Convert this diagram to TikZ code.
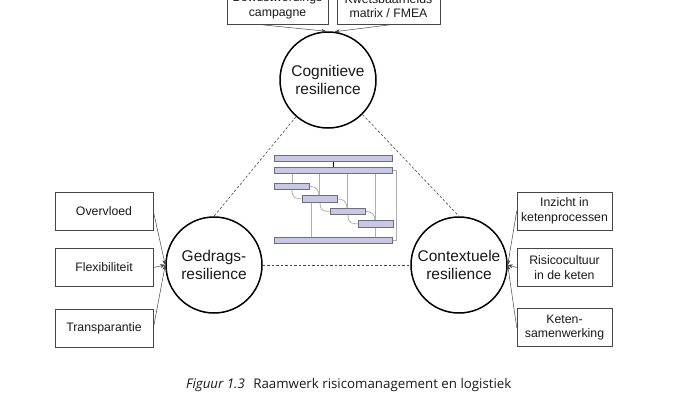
\documentclass[tikz,border=0pt]{standalone}
\usepackage{fontspec}
\setmainfont{Liberation Sans}
\setsansfont{Liberation Sans}
\newfontfamily\captionfont{Open Sans}
\usetikzlibrary{arrows.meta, positioning, calc}
\definecolor{boxline}{RGB}{70, 70, 70}
\definecolor{barfill}{RGB}{200, 200, 228}
\definecolor{barline}{RGB}{110, 110, 130}
\definecolor{ganttgray}{RGB}{175, 175, 175}
\definecolor{darktext}{RGB}{25, 25, 25}
\tikzset{
    pillar/.style={
        circle, draw=black, line width=1.5pt, minimum size=96pt,
        inner sep=0pt, font=\fontsize{15.5}{17.5}\selectfont,
        text=darktext, align=center
    },
    box/.style={
        rectangle, draw=boxline, line width=0.6pt,
        minimum width=#1, minimum height=38pt, inner sep=2pt,
        font=\fontsize{12.3}{14.5}\selectfont, text=darktext, align=center
    },
    box/.default=98pt,
    arrow/.style={-{Stealth[length=5pt, width=4pt]}, line width=0.5pt, color=boxline},
    dashedline/.style={dashed, dash pattern=on 2.5pt off 2pt, line width=0.6pt, color=boxline},
    bar/.style={fill=barfill, draw=barline, line width=0.6pt},
    ganttline/.style={color=ganttgray, line width=0.8pt}
}

\begin{document}
\begin{tikzpicture}[x=1pt, y=-1pt]
    \useasboundingbox (0,0) rectangle (680,400);

    % three kinds of resilience
    \node[pillar] (cog) at (328,80) {Cognitieve\\resilience};
    \node[pillar] (ged) at (214,265) {Gedrags-\\resilience};
    \node[pillar] (con) at (459,265) {Contextuele\\resilience};

    % measures
    \node[box=101pt, minimum height=36pt] (bew) at (277.5,6) {Bewustwordings\\campagne};
    \node[box=103pt, minimum height=36pt] (kwe) at (388.5,6) {Kwetsbaarheids\\matrix / FMEA};

    \node[box] (ove) at (104,211) {Overvloed};
    \node[box] (fle) at (104,267.5) {Flexibiliteit};
    \node[box] (tra) at (104,328.5) {Transparantie};

    \node[box=95pt] (inz) at (564.5,211) {Inzicht in\\ketenprocessen};
    \node[box=95pt] (ris) at (564.5,267.5) {Risicocultuur\\in de keten};
    \node[box=95pt] (ket) at (564.5,327.5) {Keten-\\samenwerking};

    % arrows into the circles
    \draw[arrow] ($(bew.south west)!0.3!(bew.south east)$) -- (cog.92);
    \draw[arrow] ($(kwe.south west)!0.55!(kwe.south east)$) -- (cog.82);

    \draw[arrow] (ove.east) -- (ged.west);
    \draw[arrow] (fle.east) -- (ged.west);
    \draw[arrow] (tra.east) -- (ged.west);

    \draw[arrow] (inz.west) -- (con.east);
    \draw[arrow] (ris.west) -- (con.east);
    \draw[arrow] (ket.west) -- (con.east);

    % triangle of dashed links
    \draw[dashedline] (cog.229) -- (ged.north);
    \draw[dashedline] (cog.-45) -- (con.north);
    \draw[dashedline] (ged.east) -- (con.west);

    % planning icon in the middle
    \draw[ganttline] (292,173) -- (292,183);
    \draw[ganttline] (319,173) -- (319,196);
    \draw[ganttline] (347,173) -- (347,208);
    \draw[ganttline] (375,173) -- (375,220);
    \draw[ganttline] (311,202) -- (311,237);
    \draw[ganttline] (375,227) -- (375,237);
    \draw[ganttline] (392,170) -- (396,170) -- (396,240) -- (392,240);
    \foreach \i in {0,1,2} {
        \pgfmathsetmacro{\xa}{274+28*\i}
        \pgfmathsetmacro{\ya}{183+12.5*\i}
        \draw[ganttline] (\xa+18,\ya+6.5) .. controls (\xa+18,\ya+15.75) and (\xa+22,\ya+15.75) .. (\xa+28,\ya+15.75);
        \draw[ganttline] (\xa+35,\ya+3.25) .. controls (\xa+42,\ya+3.25) and (\xa+45,\ya+7) .. (\xa+45,\ya+12.5);
    }
    \draw[line width=0.8pt] (333,161) -- (333,167);
    \draw[bar] (274,155) rectangle (392,161);
    \draw[bar] (274,167) rectangle (392,173);
    \foreach \i in {0,...,3}
        \draw[bar] (274+28*\i,183+12.5*\i) rectangle +(35,6.5);
    \draw[bar] (274,237) rectangle (392,243);

    % caption
    \node[anchor=base west, inner sep=0pt, font=\captionfont\fontsize{13.3}{15}\selectfont, text=darktext] (cap) at (186,388)
        {\textit{Figuur 1.3}\hspace{5pt} Raamwerk risicomanagement en logistiek};
\end{tikzpicture}
\end{document}
